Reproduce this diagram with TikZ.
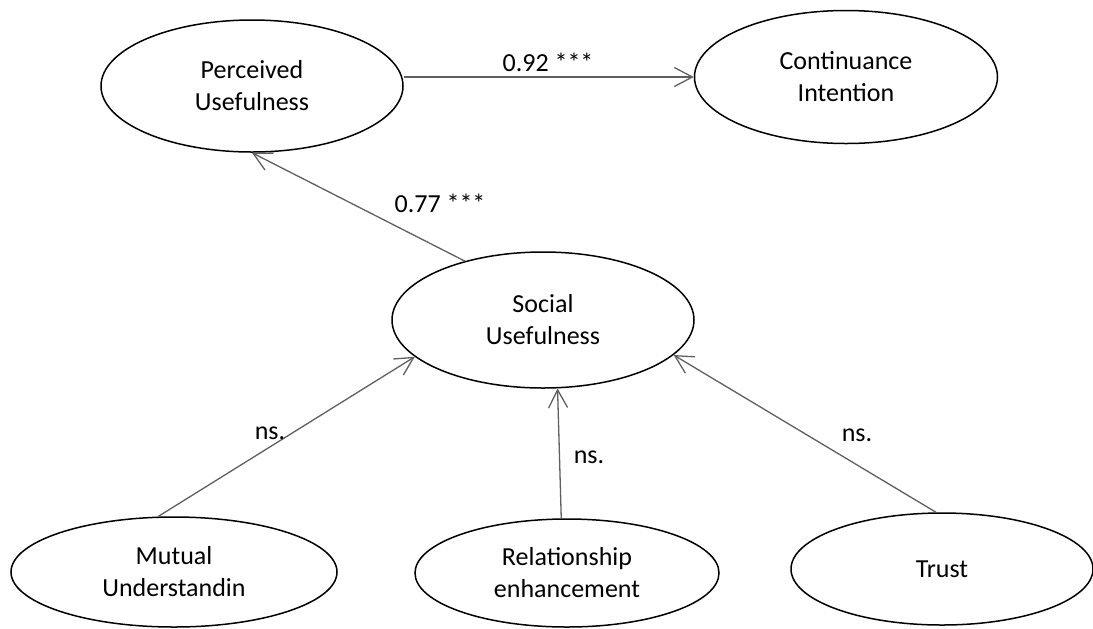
\documentclass[tikz,border=0pt]{standalone}
\usepackage{fontspec}
\setmainfont{Carlito}
\usepackage{xcolor}
\usetikzlibrary{shapes.geometric,arrows.meta}
\definecolor{fg}{HTML}{000000}
\definecolor{linkgray}{HTML}{5F5F5F}

\tikzset{
  construct/.style={draw=fg,ellipse,line width=0.75pt,inner sep=0pt,
    align=center,font=\fontsize{13}{16}\selectfont},
  effect/.style={draw=linkgray,line width=0.65pt,
    -{Straight Barb[length=9pt,width=9.5pt]}},
  coef/.style={font=\fontsize{13}{16}\selectfont,inner sep=0pt}
}

\begin{document}
\begin{tikzpicture}[x=0.5pt,y=-0.5pt]
  \useasboundingbox (0,0) rectangle (1093,628);

  % constructs
  \node[construct,minimum width=151pt,minimum height=66pt] (pu) at (252,86) {Perceived\\Usefulness};
  \node[construct,minimum width=151.5pt,minimum height=66.5pt] (ci) at (846,77) {Continuance\\Intention};
  \node[construct,minimum width=151pt,minimum height=68pt] (su) at (543,320) {Social\\Usefulness};
  \node[construct,minimum width=163pt,minimum height=55pt] (mu) at (174,572) {Mutual\\Understandin};
  \node[construct,minimum width=152pt,minimum height=54pt] (re) at (567,573) {Relationship\\enhancement};
  \node[construct,minimum width=151pt,minimum height=56pt] (tr) at (942,569) {Trust};

  % paths
  \draw[effect] (pu.east |- ci.west) -- (ci.west);
  \draw[effect] (su.143) -- (pu.south);
  \draw[effect] (mu.106) -- (su.196);
  \draw[effect] (re.96) -- (su.282);
  \draw[effect] (tr.96) -- (su.345);

  % coefficients
  \node[coef] (c1) at (548,62) {0.92 ***};
  \node[coef] (c2) at (440,203) {0.77 ***};
  \node[coef] (c3) at (270,433) {ns.};
  \node[coef] (c4) at (589,457) {ns.};
  \node[coef] (c5) at (857,435) {ns.};
\end{tikzpicture}
\end{document}
